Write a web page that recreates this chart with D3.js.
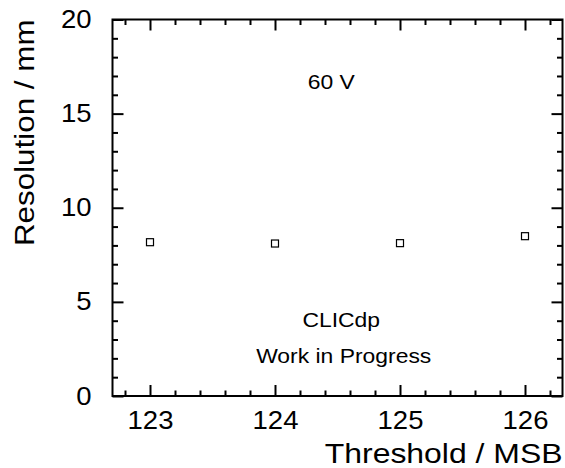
<!DOCTYPE html>
<html>
<head>
<meta charset="utf-8">
<script src="https://cdn.jsdelivr.net/npm/d3@7"></script>
<style>
  html, body { margin: 0; padding: 0; background: #fff; }
  svg { display: block; font-family: "Liberation Sans", Arial, Helvetica, sans-serif; }
</style>
</head>
<body>
<svg id="chart" width="565" height="468"></svg>
<script>
// Threshold scan at 60 V: spatial resolution per threshold setting
const thresholds = [123, 124, 125, 126];
const resolution = [8.17, 8.10, 8.12, 8.49];

const xMajorTicks = [123, 124, 125, 126];
const yMajorTicks = [0, 5, 10, 15, 20];
const xDomain = [122.7, 126.3];
const yDomain = [0, 20];

const xTitle = "Threshold / MSB";
const yTitle = "Resolution / mm";
const labels = [
  { text: "60 V", x: 124.45, y: 16.3 },
  { text: "CLICdp", x: 124.53, y: 3.65 },
  { text: "Work in Progress", x: 124.55, y: 1.75 }
];

const W = 565, H = 468;
const margin = { left: 112.5, right: 2.5, top: 19.5, bottom: 72 };

const svg = d3.select("#chart");
const x = d3.scaleLinear().domain(xDomain).range([margin.left, W - margin.right]);
const y = d3.scaleLinear().domain(yDomain).range([H - margin.bottom, margin.top]);

const majorLen = 11, minorLen = 5.5;
const xMinor = d3.range(122.8, 126.3, 0.2).map(v => +v.toFixed(1)).filter(v => !xMajorTicks.includes(v));
const yMinor = d3.range(1, 20, 1).filter(v => !yMajorTicks.includes(v));

// widen glyphs slightly (Helvetica-like metrics)
function stretch(sel, f) {
  sel.each(function () {
    const w = this.getComputedTextLength();
    d3.select(this).attr("textLength", w * f).attr("lengthAdjust", "spacingAndGlyphs");
  });
}

function styleAxis(g) {
  g.select(".domain").remove();
  g.selectAll("line").attr("stroke", "#000").attr("stroke-width", 2);
  g.selectAll("text").attr("fill", "#000").attr("font-size", 25);
}

// bottom axis with labels
svg.append("g").attr("transform", `translate(0,${y(0)})`)
  .call(d3.axisBottom(x).tickValues(xMajorTicks).tickSizeInner(-majorLen).tickSizeOuter(0).tickPadding(15).tickFormat(d3.format("d")))
  .call(styleAxis)
  .selectAll("text").call(stretch, 1.1);
svg.append("g").attr("transform", `translate(0,${y(0)})`)
  .call(d3.axisBottom(x).tickValues(xMinor).tickSizeInner(-minorLen).tickSizeOuter(0).tickFormat(""))
  .call(styleAxis);
// top axis (ticks only)
svg.append("g").attr("transform", `translate(0,${y(20)})`)
  .call(d3.axisTop(x).tickValues(xMajorTicks).tickSizeInner(-majorLen).tickSizeOuter(0).tickFormat(""))
  .call(styleAxis);
svg.append("g").attr("transform", `translate(0,${y(20)})`)
  .call(d3.axisTop(x).tickValues(xMinor).tickSizeInner(-minorLen).tickSizeOuter(0).tickFormat(""))
  .call(styleAxis);
// left axis with labels
svg.append("g").attr("transform", `translate(${x(xDomain[0])},0)`)
  .call(d3.axisLeft(y).tickValues(yMajorTicks).tickSizeInner(-majorLen).tickSizeOuter(0).tickPadding(21).tickFormat(d3.format("d")))
  .call(styleAxis)
  .selectAll("text").call(stretch, 1.1);
svg.append("g").attr("transform", `translate(${x(xDomain[0])},0)`)
  .call(d3.axisLeft(y).tickValues(yMinor).tickSizeInner(-minorLen).tickSizeOuter(0).tickFormat(""))
  .call(styleAxis);
// right axis (ticks only)
svg.append("g").attr("transform", `translate(${x(xDomain[1])},0)`)
  .call(d3.axisRight(y).tickValues(yMajorTicks).tickSizeInner(-majorLen).tickSizeOuter(0).tickFormat(""))
  .call(styleAxis);
svg.append("g").attr("transform", `translate(${x(xDomain[1])},0)`)
  .call(d3.axisRight(y).tickValues(yMinor).tickSizeInner(-minorLen).tickSizeOuter(0).tickFormat(""))
  .call(styleAxis);

// frame
svg.append("rect")
  .attr("x", x(xDomain[0])).attr("y", y(yDomain[1]))
  .attr("width", x(xDomain[1]) - x(xDomain[0]))
  .attr("height", y(yDomain[0]) - y(yDomain[1]))
  .attr("fill", "none").attr("stroke", "#000").attr("stroke-width", 2);

// open square markers
const ms = 7;
svg.append("g").selectAll("rect")
  .data(thresholds.map((t, i) => ({ t, r: resolution[i] })))
  .join("rect")
  .attr("x", d => x(d.t) - ms / 2)
  .attr("y", d => y(d.r) - ms / 2)
  .attr("width", ms).attr("height", ms)
  .attr("fill", "none").attr("stroke", "#000").attr("stroke-width", 1.2);

// in-plot labels
svg.append("g").selectAll("text")
  .data(labels)
  .join("text")
  .attr("x", d => x(d.x)).attr("y", d => y(d.y))
  .attr("text-anchor", "middle")
  .attr("font-size", 21)
  .attr("fill", "#000")
  .text(d => d.text)
  .call(stretch, 1.09);

// axis titles
svg.append("text")
  .attr("x", x(xDomain[1])).attr("y", 463)
  .attr("text-anchor", "end").attr("font-size", 28).attr("fill", "#000")
  .text(xTitle)
  .call(stretch, 1.14);
svg.append("text")
  .attr("transform", `translate(34,${y(yDomain[1])}) rotate(-90)`)
  .attr("text-anchor", "end").attr("font-size", 28).attr("fill", "#000")
  .text(yTitle)
  .call(stretch, 1.12);
</script>
</body>
</html>
